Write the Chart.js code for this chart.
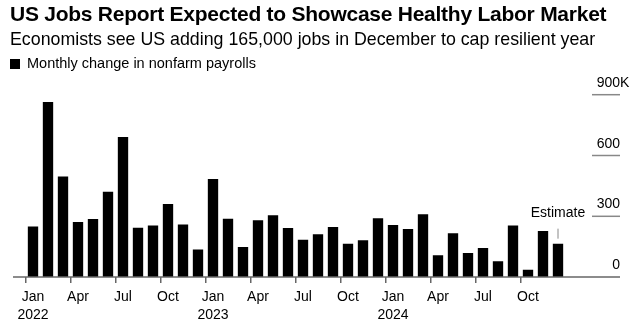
<!DOCTYPE html>
<html>
<head>
<meta charset="utf-8">
<script src="https://cdn.jsdelivr.net/npm/chart.js@4.4.1/dist/chart.umd.min.js"></script>
<style>
  body { margin: 0; background: #fff; overflow: hidden; }
  #wrap { position: relative; width: 639px; height: 325px; overflow: hidden; font-family: "Liberation Sans", Arial, sans-serif; color: #000; }
  #title { position: absolute; left: 10px; top: 2px; font-size: 21px; font-weight: bold; letter-spacing: -0.25px; white-space: nowrap; }
  #sub { position: absolute; left: 10px; top: 29px; font-size: 17.8px; white-space: nowrap; }
  #legend { position: absolute; left: 10px; top: 55px; font-size: 14.5px; white-space: nowrap; }
  #legend span { display: inline-block; width: 10px; height: 10px; background: #000; margin-right: 7px; vertical-align: -1px; }
  canvas { position: absolute; left: 0; top: 0; }
</style>
</head>
<body>
<div id="wrap">
  <canvas id="grafica" width="639" height="331"></canvas>
  <div id="title">US Jobs Report Expected to Showcase Healthy Labor Market</div>
  <div id="sub">Economists see US adding 165,000 jobs in December to cap resilient year</div>
  <div id="legend"><span></span>Monthly change in nonfarm payrolls</div>
</div>
<script>
const months = [
    'Jan 2022', 'Feb 2022', 'Mar 2022', 'Apr 2022', 'May 2022', 'Jun 2022',
    'Jul 2022', 'Aug 2022', 'Sep 2022', 'Oct 2022', 'Nov 2022', 'Dec 2022',
    'Jan 2023', 'Feb 2023', 'Mar 2023', 'Apr 2023', 'May 2023', 'Jun 2023',
    'Jul 2023', 'Aug 2023', 'Sep 2023', 'Oct 2023', 'Nov 2023', 'Dec 2023',
    'Jan 2024', 'Feb 2024', 'Mar 2024', 'Apr 2024', 'May 2024', 'Jun 2024',
    'Jul 2024', 'Aug 2024', 'Sep 2024', 'Oct 2024', 'Nov 2024', 'Dec 2024'
];

// thousands of jobs; last one is the December estimate
const payrolls = [
    250, 864, 496, 272, 287, 421, 691, 244, 255, 361, 259, 136,
    484, 288, 148, 280, 305, 242, 184, 211, 247, 164, 182, 290,
    257, 237, 310, 108, 216, 119, 144, 78, 255, 36, 227, 165
];

const tickMonths = ['Jan', 'Apr', 'Jul', 'Oct'];
const yTicks = [0, 300, 600, 900];
const estimateLabel = 'Estimate';

const ctx = document.getElementById('grafica');

const extras = {
    id: 'extras',
    afterDraw(chart) {
        const c = chart.ctx;
        const x = chart.scales.x;
        const y = chart.scales.y;
        c.save();

        // baseline
        const y0 = y.getPixelForValue(0);
        c.strokeStyle = '#666';
        c.lineWidth = 1.5;
        c.beginPath();
        c.moveTo(13, y0);
        c.lineTo(620, y0);
        c.stroke();

        // right side tick marks and labels
        c.font = '14px "Liberation Sans", Arial, sans-serif';
        c.fillStyle = '#000';
        c.textBaseline = 'alphabetic';
        yTicks.forEach(v => {
            const py = y.getPixelForValue(v);
            if (v > 0) {
                c.strokeStyle = '#888';
                c.lineWidth = 1.5;
                c.beginPath();
                c.moveTo(592, py);
                c.lineTo(620, py);
                c.stroke();
            }
            c.textAlign = 'right';
            c.fillText(String(v), 620, py - 8);
            if (v === 900) {
                c.textAlign = 'left';
                c.fillText('K', 620, py - 8);
            }
        });

        // estimate note
        const last = payrolls.length - 1;
        const ex = x.getPixelForValue(last);
        const ey = y.getPixelForValue(payrolls[last]);
        c.strokeStyle = '#888';
        c.lineWidth = 1;
        c.beginPath();
        c.moveTo(ex, ey - 5);
        c.lineTo(ex, ey - 15);
        c.stroke();
        c.textAlign = 'center';
        c.fillText(estimateLabel, ex, ey - 27);

        c.restore();
    }
};

new Chart(ctx, {
    type: 'bar',
    data: {
        labels: months,
        datasets: [{
            label: 'Monthly change in nonfarm payrolls',
            data: payrolls,
            backgroundColor: '#000',
            borderWidth: 0,
            categoryPercentage: 1,
            barPercentage: 0.69
        }]
    },
    options: {
        responsive: false,
        animation: false,
        layout: {
            padding: { left: 25.5, right: 73.5, top: 94.7, bottom: 1.7 }
        },
        plugins: {
            legend: { display: false },
            tooltip: { enabled: false }
        },
        scales: {
            x: {
                border: { display: false },
                grid: {
                    drawOnChartArea: false,
                    drawTicks: true,
                    tickLength: 6,
                    lineWidth: 1.5,
                    color: c => (c.index % 3 === 0 ? '#666' : 'rgba(0,0,0,0)')
                },
                ticks: {
                    autoSkip: false,
                    maxRotation: 0,
                    padding: 4.9,
                    color: '#000',
                    font: { family: '"Liberation Sans", Arial, sans-serif', size: 14, lineHeight: 1.3 },
                    callback: function (value, index) {
                        const parts = months[index].split(' ');
                        if (!tickMonths.includes(parts[0])) return '';
                        return parts[0] === 'Jan' ? [parts[0], parts[1]] : parts[0];
                    }
                }
            },
            y: {
                display: false,
                min: 0,
                max: 900
            }
        }
    },
    plugins: [extras]
});
</script>
</body>
</html>
